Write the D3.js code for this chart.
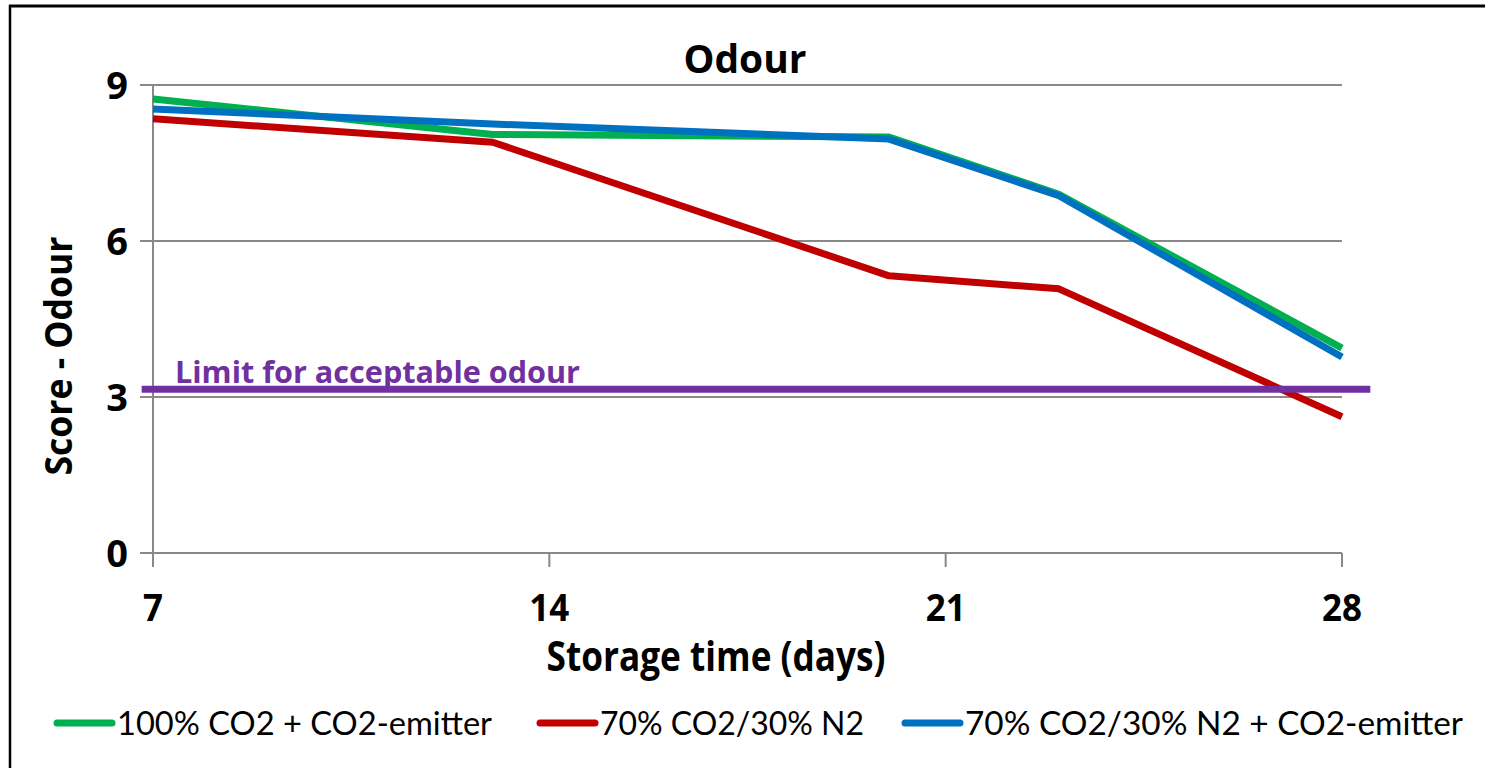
<!DOCTYPE html>
<html>
<head>
<meta charset="utf-8">
<script src="https://cdn.jsdelivr.net/npm/d3@7"></script>
<style>
  html, body { margin: 0; padding: 0; background: #fff; }
  svg { display: block; font-family: Lato, "Open Sans", sans-serif; }
  .bold { font-family: "Open Sans", Lato, sans-serif; font-weight: 700; }
</style>
</head>
<body>
<svg id="chart" width="1485" height="768"></svg>
<script>
// Storage days at which odour was scored
const days = [7, 13, 20, 23, 28];

// Odour scores per packaging treatment
const seriesNames = ["100% CO2 + CO2-emitter", "70% CO2/30% N2", "70% CO2/30% N2 + CO2-emitter"];
const co2Emitter = [8.73, 8.05, 8.0, 6.9, 3.94];
const mapN2 = [8.35, 7.9, 5.33, 5.08, 2.62];
const mapN2Emitter = [8.54, 8.25, 7.96, 6.87, 3.77];
const seriesColors = ["#00B050", "#C00000", "#0070C0"];

// Acceptability threshold
const limitValue = 3.15;
const limitSpan = [6.8, 28.5];
const limitLabel = "Limit for acceptable odour";

// Axis ticks
const xTicks = [7, 14, 21, 28];
const yTicks = [0, 3, 6, 9];

const svg = d3.select("#chart");
const x = d3.scaleLinear().domain([7, 28]).range([153, 1342]);
const y = d3.scaleLinear().domain([0, 9]).range([553, 85]);
const grey = "#898989";

// Outer frame (top and left edges are visible)
svg.append("line").attr("x1", 9).attr("x2", 1485).attr("y1", 6).attr("y2", 6)
  .attr("stroke", "#000").attr("stroke-width", 3);
svg.append("line").attr("x1", 10).attr("x2", 10).attr("y1", 5).attr("y2", 768)
  .attr("stroke", "#000").attr("stroke-width", 2.5);

// Horizontal gridlines with left tick stubs
svg.append("g").selectAll("line").data(yTicks).join("line")
  .attr("x1", 140).attr("x2", x(28))
  .attr("y1", d => y(d)).attr("y2", d => y(d))
  .attr("stroke", grey).attr("stroke-width", 2);

// Vertical axis line
svg.append("line").attr("x1", x(7)).attr("x2", x(7))
  .attr("y1", y(9)).attr("y2", y(0) + 14)
  .attr("stroke", grey).attr("stroke-width", 2);

// X tick marks
svg.append("g").selectAll("line").data(xTicks.slice(1)).join("line")
  .attr("x1", d => x(d)).attr("x2", d => x(d))
  .attr("y1", y(0)).attr("y2", y(0) + 14)
  .attr("stroke", grey).attr("stroke-width", 2);

// Tick labels
svg.append("g").selectAll("text").data(yTicks).join("text")
  .attr("class", "bold")
  .attr("x", 128).attr("y", d => y(d)).attr("dy", "0.36em")
  .attr("text-anchor", "end").attr("font-size", 38)
  .text(d => d);
svg.append("g").selectAll("text").data(xTicks).join("text")
  .attr("class", "bold")
  .attr("x", d => x(d)).attr("y", 621)
  .attr("text-anchor", "middle").attr("font-size", 38)
  .attr("textLength", d => String(d).length * 20).attr("lengthAdjust", "spacingAndGlyphs")
  .text(d => d);

// Title and axis titles
svg.append("text").attr("class", "bold").attr("x", 745).attr("y", 73).attr("text-anchor", "middle")
  .attr("font-size", 39)
  .attr("textLength", 123).attr("lengthAdjust", "spacingAndGlyphs").text("Odour");
svg.append("text").attr("class", "bold").attr("x", 716).attr("y", 671).attr("text-anchor", "middle")
  .attr("font-size", 41)
  .attr("textLength", 339).attr("lengthAdjust", "spacingAndGlyphs").text("Storage time (days)");
svg.append("text").attr("class", "bold").attr("transform", "translate(72,356) rotate(-90)")
  .attr("text-anchor", "middle").attr("font-size", 38)
  .attr("textLength", 239).attr("lengthAdjust", "spacingAndGlyphs").text("Score - Odour");

// Series lines
const seriesData = [co2Emitter, mapN2, mapN2Emitter];
const line = d3.line().x((d, i) => x(days[i])).y(d => y(d));
svg.append("g").selectAll("path").data(seriesData).join("path")
  .attr("d", d => line(d))
  .attr("fill", "none")
  .attr("stroke", (d, i) => seriesColors[i])
  .attr("stroke-width", 7)
  .attr("stroke-linejoin", "round");

// Limit line and label
svg.append("line")
  .attr("x1", x(limitSpan[0])).attr("x2", x(limitSpan[1]))
  .attr("y1", y(limitValue)).attr("y2", y(limitValue))
  .attr("stroke", "#7030A0").attr("stroke-width", 7);
svg.append("text").attr("class", "bold").attr("x", 175).attr("y", 383)
  .attr("font-size", 30).attr("fill", "#7030A0")
  .attr("textLength", 405).attr("lengthAdjust", "spacingAndGlyphs").text(limitLabel);

// Legend
const legendX = [57, 540, 905];
const legendW = [375, 264, 498];
const lg = svg.append("g").selectAll("g").data(seriesNames).join("g")
  .attr("transform", (d, i) => `translate(${legendX[i]},723)`);
lg.append("line").attr("x1", 0).attr("x2", 55).attr("y1", 0).attr("y2", 0)
  .attr("stroke", (d, i) => seriesColors[i]).attr("stroke-width", 7)
  .attr("stroke-linecap", "round");
lg.append("text").attr("x", 60).attr("y", 12)
  .attr("font-size", 33)
  .attr("textLength", (d, i) => legendW[i]).attr("lengthAdjust", "spacingAndGlyphs")
  .text(d => d);
</script>
</body>
</html>
